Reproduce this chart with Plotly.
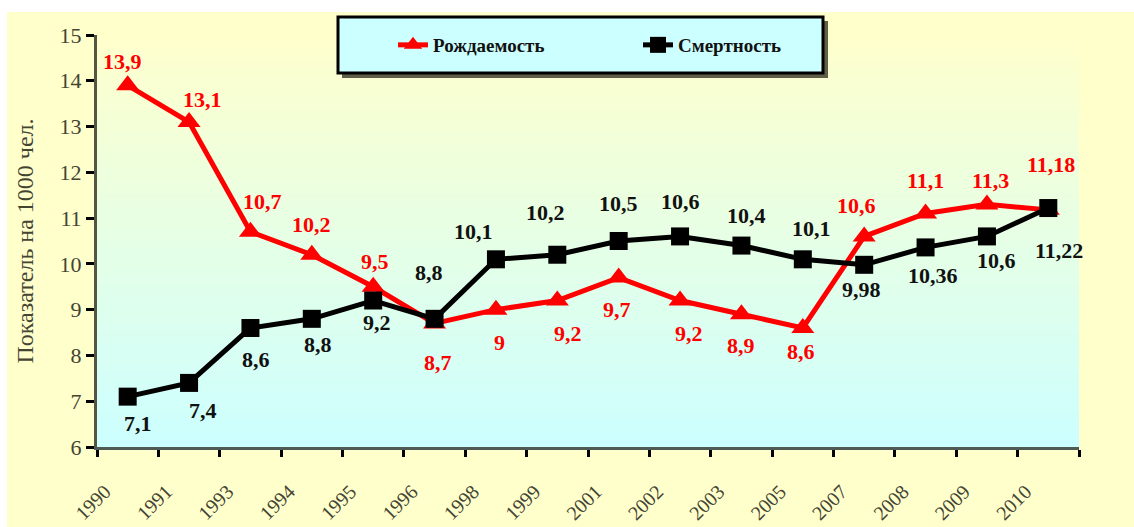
import plotly.graph_objects as go

years = ["1990", "1991", "1993", "1994", "1995", "1996", "1998", "1999",
         "2001", "2002", "2003", "2005", "2007", "2008", "2009", "2010"]
birth = [13.9, 13.1, 10.7, 10.2, 9.5, 8.7, 9, 9.2, 9.7, 9.2, 8.9, 8.6, 10.6, 11.1, 11.3, 11.18]
death = [7.1, 7.4, 8.6, 8.8, 9.2, 8.8, 10.1, 10.2, 10.5, 10.6, 10.4, 10.1, 9.98, 10.36, 10.6, 11.22]

# label offsets in px (x shift, y shift; positive y = up)
birth_dx = [-5, 13, 12, 0, 2, 3, 4, 11, -2, 9, 0, -2, -8, 0, 4, 3]
birth_dy = [24, 22, 30, 30, 25, -39, -33, -33, -32, -33, -31, -24, 31, 33, 24, 45]
death_dx = [10, 14, 6, 6, 4, -6, -22, -12, 0, 0, 5, 9, -3, 7, 10, 11]
death_dy = [-27, -28, -32, -26, -22, 46, 28, 42, 38, 35, 30, 31, -25, -28, -24, -42]

W, H = 1134, 527
L, R, T, B = 97, 55, 35, 80
pw, ph = W - L - R, H - T - B
FONT = "Liberation Serif"


def px(x):
    return (x - L) / pw


def py(y):
    return (H - B - y) / ph


xs = [i + 0.5 for i in range(len(years))]

fig = go.Figure()

fig.add_trace(go.Scatter(
    x=xs, y=birth, mode="lines+markers", name="Рождаемость",
    line=dict(color="#FF0000", width=5),
    marker=dict(symbol="triangle-up", size=20, color="#FF0000"),
))
fig.add_trace(go.Scatter(
    x=xs, y=death, mode="lines+markers", name="Смертность",
    line=dict(color="#000000", width=5),
    marker=dict(symbol="square", size=18, color="#000000"),
))


def fmt(v):
    return str(v).replace(".", ",")


annotations = []
for i, v in enumerate(birth):
    annotations.append(dict(x=xs[i], y=v, text=fmt(v), showarrow=False,
                            xshift=birth_dx[i], yshift=birth_dy[i],
                            font=dict(family=FONT, size=22, color="#FF0000", weight="bold")))
for i, v in enumerate(death):
    annotations.append(dict(x=xs[i], y=v, text=fmt(v), showarrow=False,
                            xshift=death_dx[i], yshift=death_dy[i],
                            font=dict(family=FONT, size=22, color="#111111", weight="bold")))

# background gradient in plot area (yellow top -> cyan bottom)
shapes = []
n = 60
top = (255, 255, 204)
bot = (204, 255, 255)
for k in range(n):
    t = (k + 0.5) / n
    c = [round(bot[j] + (top[j] - bot[j]) * t) for j in range(3)]
    shapes.append(dict(type="rect", xref="paper", yref="paper",
                       x0=0, x1=1, y0=k / n, y1=(k + 1) / n + 0.002,
                       fillcolor="rgb(%d,%d,%d)" % tuple(c), line=dict(width=0),
                       layer="below"))

# white strips at top and left of the picture
shapes.append(dict(type="rect", xref="paper", yref="paper",
                   x0=px(0), x1=px(W), y0=py(12), y1=py(0),
                   fillcolor="white", line=dict(width=0), layer="below"))
shapes.append(dict(type="rect", xref="paper", yref="paper",
                   x0=px(0), x1=px(7), y0=py(H), y1=py(0),
                   fillcolor="white", line=dict(width=0), layer="below"))

# legend box with shadow
shapes.append(dict(type="rect", xref="paper", yref="paper",
                   x0=px(342), x1=px(828), y0=py(78), y1=py(21),
                   fillcolor="#5f5f48", line=dict(width=0), layer="above"))
shapes.append(dict(type="rect", xref="paper", yref="paper",
                   x0=px(338), x1=px(823), y0=py(73), y1=py(17),
                   fillcolor="#CCFFFF", line=dict(color="black", width=3), layer="above"))

fig.update_layout(
    width=W, height=H,
    margin=dict(l=L, r=R, t=T, b=B),
    paper_bgcolor="#FFFFCC",
    plot_bgcolor="#CCFFFF",
    font=dict(family=FONT, color="#444433"),
    shapes=shapes,
    annotations=annotations,
    showlegend=True,
    legend=dict(
        orientation="h", x=px(393), xanchor="left", y=py(45), yanchor="middle",
        bgcolor="rgba(0,0,0,0)", borderwidth=0,
        font=dict(family=FONT, size=19, color="#111111", weight="bold"),
        entrywidth=200, entrywidthmode="pixels",
    ),
    xaxis=dict(
        range=[0, len(years)], tickmode="array",
        tickvals=list(range(len(years) + 1)), ticktext=years + [""],
        tickangle=-45, ticks="outside", ticklen=7, tickwidth=3, tickcolor="black",
        showline=True, linecolor="#4f5a55", linewidth=3, showgrid=False, zeroline=False,
        tickfont=dict(family=FONT, size=20, color="#444433"),
        ticklabelstandoff=15, ticklabelshift=8, automargin=False,
    ),
    yaxis=dict(
        range=[6, 15], dtick=1, ticks="outside", ticklen=8, tickwidth=3, tickcolor="black",
        showline=True, linecolor="#555544", linewidth=3, showgrid=False, zeroline=False,
        tickfont=dict(family=FONT, size=22, color="#444433"), automargin=False,
        title=dict(text="Показатель на 1000 чел.", standoff=20,
                   font=dict(family=FONT, size=24, color="#444433")),
    ),
)

fig.write_html("out.html", config={"displayModeBar": False},
               post_script="document.body.style.margin='0';")
